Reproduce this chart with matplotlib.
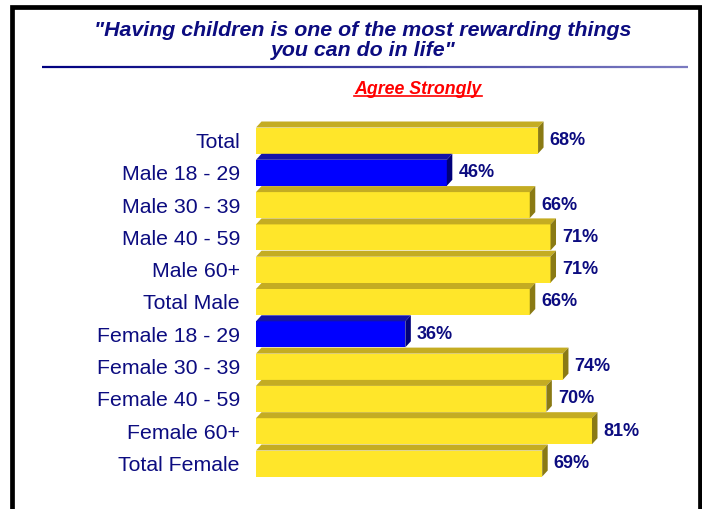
import numpy as np
import matplotlib
matplotlib.use("Agg")
from matplotlib import pyplot as plt
from matplotlib.patches import Polygon, Rectangle
from matplotlib.collections import LineCollection

categories = ["Total", "Male 18 - 29", "Male 30 - 39", "Male 40 - 59", "Male 60+",
              "Total Male", "Female 18 - 29", "Female 30 - 39", "Female 40 - 59",
              "Female 60+", "Total Female"]
values = [68, 46, 66, 71, 71, 66, 36, 74, 70, 81, 69]
highlight = [False, True, False, False, False, False, True, False, False, False, False]

NAVY = "#0c0c80"
YELLOW = ("#ffe62a", "#c4ac22", "#8a7a14")  # front, top, side
BLUE = ("#0000ff", "#1414a8", "#00007a")

plt.rcParams["font.family"] = ["Liberation Sans", "DejaVu Sans"]

W, H = 702, 510
fig = plt.figure(figsize=(W / 100, H / 100), dpi=100)

# axes placed so 0..100 % spans pixels 256..671
x0, x1 = 256, 256 + 100 * 4.148
ytop, ybot = 100, 510
ax = fig.add_axes([x0 / W, 1 - ybot / H, (x1 - x0) / W, (ybot - ytop) / H])
pitch = 32.3
ax.set_xlim(0, 100)
ax.set_ylim((ybot - 141.5) / pitch, (ytop - 141.5) / pitch)
ax.axis("off")

px_x = 100 / (x1 - x0)   # data units per pixel
px_y = 1 / pitch
h = 26 * px_y
dx, dy = 5.5 * px_x, 6 * px_y

ys = np.arange(len(categories))
for y, v, hl in zip(ys, values, highlight):
    front, top, side = BLUE if hl else YELLOW
    ax.barh(y, v, height=h, color=front, edgecolor="none")
    t = y - h / 2
    b = y + h / 2
    ax.add_patch(Polygon([(0, t), (v, t), (v + dx, t - dy), (dx, t - dy)],
                         closed=True, facecolor=top, edgecolor="none"))
    ax.add_patch(Polygon([(v, t), (v + dx, t - dy), (v + dx, b - dy), (v, b)],
                         closed=True, facecolor=side, edgecolor="none"))
    ax.text(v + dx + 6 * px_x, y - 1 * px_y, f"{v}%", ha="left", va="center",
            fontsize=13, fontweight="bold", color=NAVY)
    ax.text(-16 * px_x, y + 1 * px_y, categories[y], ha="right", va="center",
            fontsize=15.3, color=NAVY, clip_on=False)

# titles
fig.text(363 / W, 1 - 30 / H, "\"Having children is one of the most rewarding things",
         ha="center", va="center", fontsize=15.4, fontweight="bold",
         fontstyle="italic", color=NAVY)
fig.text(363 / W, 1 - 51 / H, "you can do in life\"",
         ha="center", va="center", fontsize=15.4, fontweight="bold",
         fontstyle="italic", color=NAVY)

sub = fig.text(418 / W, 1 - 89 / H, "Agree Strongly", ha="center", va="center",
               fontsize=12.8, fontweight="bold", fontstyle="italic", color="#ff0000")
fig.canvas.draw()
bb = sub.get_window_extent()
fig.add_artist(plt.Line2D([bb.x0 / W, bb.x1 / W], [(bb.y0 + 0.5) / H] * 2,
                          transform=fig.transFigure, color="#ff0000", lw=1.2))

# gradient rule under the title
xs = np.linspace(42, 688, 120)
segs = [[(xs[i] / W, 1 - 68 / H), (xs[i + 1] / W, 1 - 68 / H)] for i in range(len(xs) - 1)]
cmap = matplotlib.colors.LinearSegmentedColormap.from_list("rule", ["#000080", "#7a7ac0"])
lc = LineCollection(segs, colors=cmap(np.linspace(0, 1, len(segs))), linewidths=1.6,
                    transform=fig.transFigure)
fig.add_artist(lc)

# black frame (open at the bottom edge of the image)
fig.add_artist(Rectangle((11.5 / W, -20 / H), (699.5 - 11.5) / W, (H - 8 + 20) / H,
                         transform=fig.transFigure, fill=False, edgecolor="black",
                         linewidth=3.4))

fig.savefig("out.png", dpi=100)
